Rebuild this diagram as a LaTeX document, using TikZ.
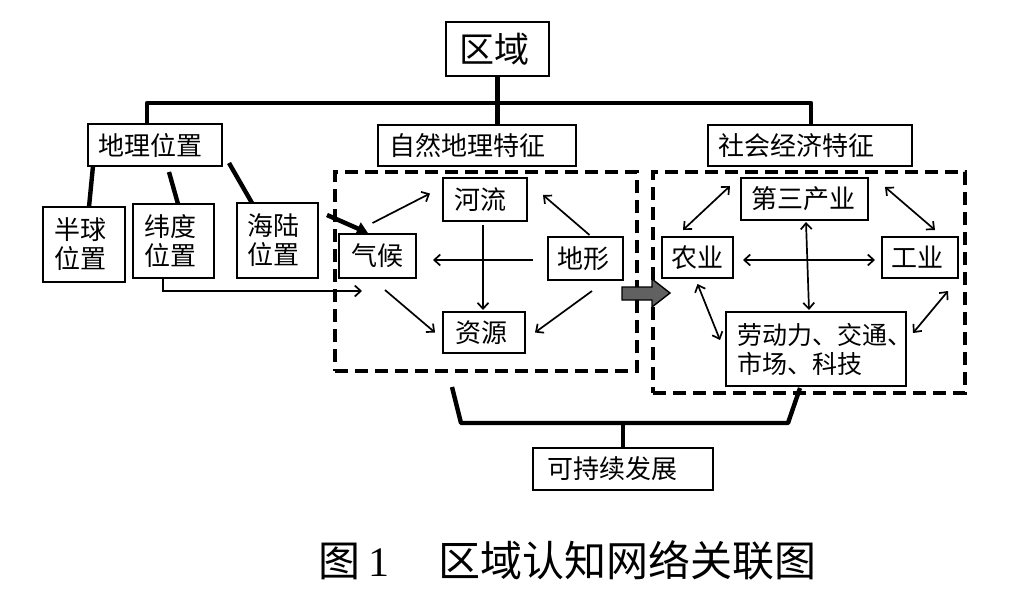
\documentclass[tikz,border=0pt]{standalone}
\usepackage{fontspec}
\newfontfamily\cjk{Noto Sans CJK SC}
\newfontfamily\capserif{Liberation Serif}
\usetikzlibrary{arrows.meta,calc}
\hfuzz=100pt
\hbadness=10000
\begin{document}
\begin{tikzpicture}[x=1pt,y=-1pt,
  bx/.style={draw, line width=2.6pt, anchor=north west, inner ysep=0pt, outer sep=0pt, align=left, font=\cjk\fontsize{26pt}{29pt}\selectfont},
  tree/.style={line width=4.4pt, line join=round},
  thin/.style={line width=1.7pt, -{Straight Barb[length=6pt,width=11pt]}},
  dbl/.style={line width=1.7pt, {Straight Barb[length=6pt,width=11pt]}-{Straight Barb[length=6pt,width=11pt]}},
  zone/.style={draw, line width=4pt, dash pattern=on 13pt off 7pt, anchor=north west, inner sep=0pt, outer sep=0pt},
]
\useasboundingbox (0,0) rectangle (1027,592);

% dashed zones
\node[zone, minimum width=302pt, minimum height=199pt] (zone1) at (335,172) {};
\node[zone, minimum width=312pt, minimum height=221pt] (zone2) at (653,172) {};

% boxes
\node[bx, minimum height=54pt, inner xsep=13pt, text width=77pt, font=\cjk\fontsize{35pt}{38pt}\selectfont] (quyu) at (446,22) {区域};
\node[bx, minimum height=42pt, inner xsep=10pt, text width=114pt] (dlwz) at (88,124) {地理位置};
\node[bx, minimum height=41pt, inner xsep=11pt, text width=176pt] (zrdl) at (378,125) {自然地理特征};
\node[bx, minimum height=41pt, inner xsep=10pt, text width=184pt] (shjj) at (708,125) {社会经济特征};
\node[bx, minimum height=75pt, inner xsep=11pt, text width=60pt] (bqwz) at (43,207) {半球\\位置};
\node[bx, minimum height=74pt, inner xsep=11pt, text width=59pt] (wdwz) at (133,204) {纬度\\位置};
\node[bx, minimum height=75pt, inner xsep=10pt, text width=61pt] (hlwz) at (237,203) {海陆\\位置};
\node[bx, minimum height=44pt, inner xsep=12pt, text width=53pt] (qh) at (339,234) {气候};
\node[bx, minimum height=43pt, inner xsep=11pt, text width=62pt] (hl) at (443,178) {河流};
\node[bx, minimum height=43pt, inner xsep=9pt, text width=57pt] (dx) at (548,237) {地形};
\node[bx, minimum height=41pt, inner xsep=12pt, text width=58pt] (zy) at (443,312) {资源};
\node[bx, minimum height=42pt, inner xsep=10pt, text width=107pt] (dsc) at (741,178) {第三产业};
\node[bx, minimum height=41pt, inner xsep=9pt, text width=53pt] (ny) at (662,237) {农业};
\node[bx, minimum height=41pt, inner xsep=9pt, text width=58pt] (gy) at (882,237) {工业};
\node[bx, minimum height=74pt, inner xsep=11pt, text width=158pt, font=\cjk\fontsize{25pt}{29pt}\selectfont] (ld) at (726,312) {劳动力、交通、\\市场、科技};
\node[bx, minimum height=42pt, inner xsep=14pt, text width=152pt] (kcx) at (533,448) {可持续发展};

% top tree
\coordinate (bL) at (147,103);
\coordinate (bR) at (811,103);
\draw[tree] (quyu.south) -- (quyu.south |- bL);
\draw[tree] (dlwz.north -| bL) -- (bL) -- (bR) -- (shjj.north -| bR);
\draw[tree] (quyu.south |- bL) -- (zrdl.north -| quyu.south);

% location branches
\draw[tree] ($(dlwz.south west)+(5,0)$) -- ($(bqwz.north west)+(46,0)$);
\draw[tree] ($(dlwz.south west)+(81,6)$) -- ($(wdwz.north west)+(45,0)$);
\draw[tree] ($(dlwz.south east)+(7,-3)$) -- ($(hlwz.north west)+(15,0)$);

% location -> climate
\draw[line width=4.5pt, -{Triangle[length=11pt,width=13pt]}] ($(hlwz.north east)+(9,12)$) -- ($(qh.north west)+(29,-1)$);
\draw[thin] ($(wdwz.south west)+(30,0)$) |- ($(qh.south west)+(23,13)$);

% natural zone arrows
\draw[thin] ($(qh.north)+(-5,-11)$) -- ($(hl.west)+(-13,-6)$);
\draw[thin] ($(dx.north)+(4,-2)$) -- ($(hl.north east)+(16,17)$);
\draw[thin] ($(dx.west)+(-15,1.5)$) -- ($(qh.east)+(17,4)$);
\draw[thin] ($(hl.south)+(-2,4)$) -- ($(zy.north)+(-1,-2)$);
\draw[thin] ($(qh.south)+(7.5,12)$) -- ($(zy.west)+(-8,0)$);
\draw[thin] ($(dx.south)+(6.5,11)$) -- ($(zy.east)+(10,0)$);

% grey arrow between zones
\draw[line width=1.4pt, fill=black!62, line join=miter] (622,287) -- (652,287) -- (652,279) -- (670,293) -- (652,307) -- (652,300) -- (622,300) -- cycle;

% socio-economic zone arrows
\draw[dbl] ($(ny.north)+(-14.5,-7)$) -- ($(dsc.west)+(-11,-13)$);
\draw[dbl] ($(dsc.east)+(17,-12)$) -- ($(gy.north)+(15,-7)$);
\draw[dbl] ($(ny.east)+(10,2.5)$) -- ($(gy.west)+(-7,2.5)$);
\draw[dbl] ($(dsc.south)+(1.5,2)$) -- ($(ld.north)+(-7,-2)$);
\draw[dbl] ($(ny.south)+(0,6)$) -- ($(ld.west)+(-6,-9)$);
\draw[dbl] ($(gy.south)+(28,13)$) -- ($(ld.east)+(7,-16)$);

% bottom bracket
\coordinate (brl) at (461,423);
\coordinate (brr) at (788,423);
\draw[tree] ($(zone1.south west)+(117,16)$) -- (brl) -- (brr) -- ($(ld.south)+(-16,2)$);
\draw[tree] (brl -| kcx.north) -- (kcx.north);

% caption
\node[anchor=base west, inner sep=0pt, font=\cjk\fontsize{42pt}{46pt}\selectfont] (cap) at (318,576) {图\hspace{8pt}{\capserif 1}\hspace{49pt}区域认知网络关联图};
\end{tikzpicture}
\end{document}
